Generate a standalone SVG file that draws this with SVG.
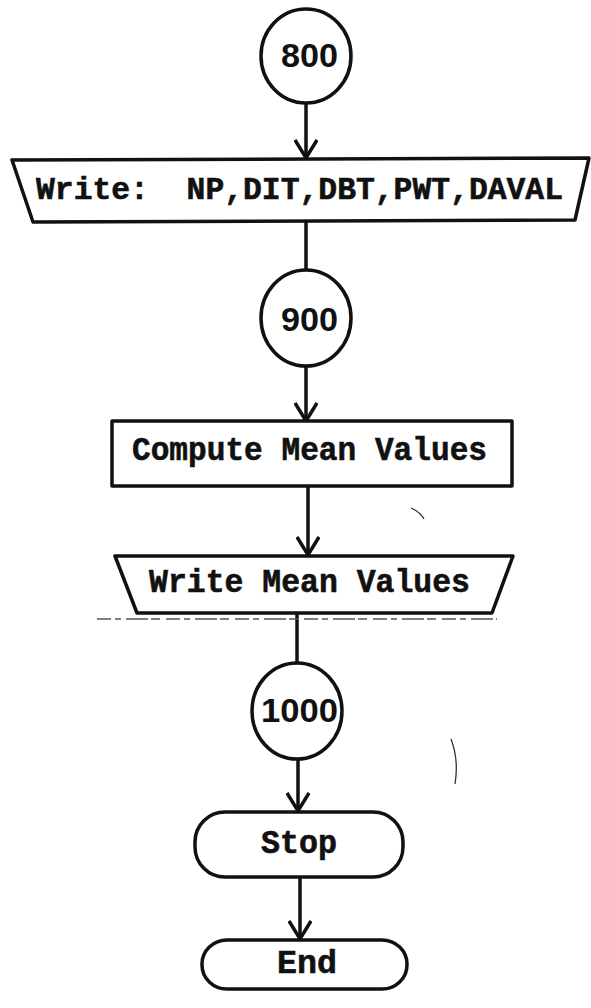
<svg xmlns="http://www.w3.org/2000/svg" width="591" height="1008" viewBox="0 0 591 1008">
<style>
  .shape { fill: #fff; stroke: #111; stroke-width: 3.5; stroke-linejoin: round; }
  .conn { fill: none; stroke: #111; stroke-width: 3.5; }
  .lbl { font-family: "Liberation Mono", "DejaVu Sans Mono", monospace; font-weight: bold; font-size: 33px; fill: #111; stroke: #111; stroke-width: 0.6; }
  .wide { font-size: 31.4px; }
  .num { font-family: "Liberation Sans", Arial, sans-serif; font-weight: bold; font-size: 34px; fill: #111; }
  .art { fill: none; stroke: #333; stroke-width: 1.3; }
</style>
<defs>
  <marker id="arr" viewBox="0 0 26 24" markerWidth="26" markerHeight="24" refX="20" refY="12" orient="auto" markerUnits="userSpaceOnUse">
    <path d="M2,1 L20,12 L2,23" fill="none" stroke="#111" stroke-width="3.5"/>
  </marker>
</defs>
<rect width="591" height="1008" fill="#fff"/>

<g id="connectors">
  <line class="conn" x1="306" y1="103" x2="306" y2="158" marker-end="url(#arr)"/>
  <line class="conn" x1="306" y1="221" x2="306" y2="270"/>
  <line class="conn" x1="306" y1="366" x2="306" y2="421" marker-end="url(#arr)"/>
  <line class="conn" x1="308" y1="486" x2="308" y2="555" marker-end="url(#arr)"/>
  <line class="conn" x1="297" y1="613" x2="297" y2="663"/>
  <line class="conn" x1="298" y1="759" x2="298" y2="811" marker-end="url(#arr)"/>
  <line class="conn" x1="300" y1="877" x2="300" y2="939" marker-end="url(#arr)"/>
</g>

<g id="n800">
  <ellipse class="shape" cx="306" cy="56" rx="45" ry="47"/>
  <text class="num" x="281" y="67" textLength="57" lengthAdjust="spacingAndGlyphs">800</text>
</g>

<g id="write1">
  <path class="shape" d="M12,160 L589,158 L575,220 L33,222 Z"/>
  <text class="lbl wide" x="36" y="199" textLength="527" lengthAdjust="spacingAndGlyphs" xml:space="preserve">Write:  NP,DIT,DBT,PWT,DAVAL</text>
</g>

<g id="n900">
  <ellipse class="shape" cx="306" cy="318" rx="45" ry="48"/>
  <text class="num" x="281" y="331" textLength="57" lengthAdjust="spacingAndGlyphs">900</text>
</g>

<g id="compute">
  <rect class="shape" x="112" y="421" width="400" height="65"/>
  <text class="lbl" x="132" y="460" textLength="355" lengthAdjust="spacingAndGlyphs">Compute Mean Values</text>
</g>

<g id="write2">
  <path class="shape" d="M115,556 L513,556 L492,613 L137,613 Z"/>
  <text class="lbl" x="149" y="592" textLength="321" lengthAdjust="spacingAndGlyphs">Write Mean Values</text>
  <line x1="97" y1="619" x2="497" y2="619" stroke="#555" stroke-width="1.5" stroke-dasharray="14,4,6,5,22,3,9,6"/>
</g>

<g id="n1000">
  <ellipse class="shape" cx="297" cy="711" rx="45" ry="48"/>
  <text class="num" x="261" y="722" textLength="77" lengthAdjust="spacingAndGlyphs">1000</text>
</g>

<g id="stop">
  <rect class="shape" x="195" y="812" width="208" height="65" rx="30" ry="30"/>
  <text class="lbl" x="261" y="853" textLength="76" lengthAdjust="spacingAndGlyphs">Stop</text>
</g>

<g id="end">
  <rect class="shape" x="202" y="940" width="205" height="49" rx="25" ry="24"/>
  <text class="lbl" x="277" y="973" textLength="60" lengthAdjust="spacingAndGlyphs">End</text>
</g>

<g id="artifacts">
  <path class="art" d="M451,739 Q459,760 455,784"/>
  <path class="art" d="M411,508 Q420,512 424,519"/>
</g>
</svg>
